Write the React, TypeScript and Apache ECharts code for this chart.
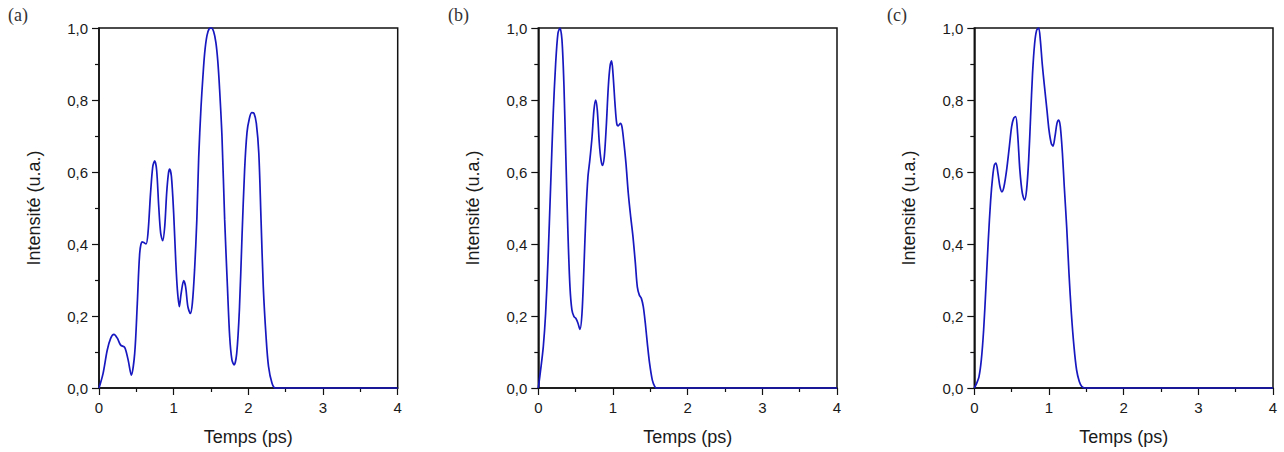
import React, { useEffect, useRef } from "react";
import * as echarts from "echarts";

// Panel (a)
const timeA = [0, 0.054, 0.11, 0.156, 0.2, 0.246, 0.29, 0.344, 0.39, 0.433, 0.478, 0.513, 0.545, 0.576, 0.6, 0.63, 0.656, 0.69, 0.72, 0.746, 0.772, 0.8, 0.826, 0.853, 0.88, 0.906, 0.93, 0.946, 0.97, 1.0, 1.027, 1.05, 1.076, 1.1, 1.134, 1.16, 1.19, 1.223, 1.25, 1.28, 1.31, 1.335, 1.366, 1.39, 1.415, 1.445, 1.475, 1.505, 1.535, 1.565, 1.59, 1.615, 1.647, 1.683, 1.72, 1.75, 1.78, 1.81, 1.844, 1.88, 1.915, 1.95, 1.982, 2.013, 2.045, 2.076, 2.107, 2.14, 2.17, 2.2, 2.237, 2.27, 2.317, 2.36, 3.0, 4.0];
const intensA = [0, 0.04, 0.105, 0.138, 0.149, 0.138, 0.119, 0.113, 0.078, 0.036, 0.096, 0.235, 0.374, 0.406, 0.404, 0.4, 0.43, 0.54, 0.615, 0.631, 0.605, 0.504, 0.43, 0.409, 0.448, 0.541, 0.596, 0.608, 0.587, 0.485, 0.356, 0.272, 0.226, 0.263, 0.298, 0.281, 0.226, 0.207, 0.235, 0.328, 0.467, 0.64, 0.78, 0.86, 0.93, 0.978, 0.998, 1.0, 0.99, 0.96, 0.91, 0.83, 0.698, 0.467, 0.281, 0.143, 0.078, 0.064, 0.096, 0.217, 0.42, 0.606, 0.71, 0.748, 0.765, 0.763, 0.735, 0.652, 0.467, 0.281, 0.143, 0.06, 0.013, 0, 0, 0];

// Panel (b)
const timeB = [0, 0.031, 0.067, 0.098, 0.13, 0.165, 0.2, 0.232, 0.263, 0.29, 0.317, 0.344, 0.37, 0.397, 0.424, 0.45, 0.478, 0.504, 0.531, 0.558, 0.585, 0.61, 0.638, 0.665, 0.69, 0.72, 0.745, 0.768, 0.79, 0.817, 0.84, 0.86, 0.884, 0.91, 0.9375, 0.96, 0.982, 1.0, 1.027, 1.05, 1.07, 1.098, 1.12, 1.147, 1.174, 1.205, 1.237, 1.268, 1.3, 1.326, 1.353, 1.38, 1.406, 1.433, 1.46, 1.49, 1.527, 1.56, 1.585, 3.0, 4.0];
const intensB = [0, 0.05, 0.115, 0.207, 0.356, 0.56, 0.763, 0.9, 0.985, 1.0, 0.967, 0.837, 0.633, 0.43, 0.281, 0.217, 0.198, 0.193, 0.18, 0.163, 0.207, 0.328, 0.485, 0.587, 0.633, 0.698, 0.772, 0.8, 0.772, 0.68, 0.633, 0.618, 0.643, 0.726, 0.837, 0.893, 0.909, 0.874, 0.79, 0.735, 0.728, 0.735, 0.726, 0.68, 0.624, 0.541, 0.476, 0.42, 0.346, 0.281, 0.258, 0.249, 0.226, 0.18, 0.124, 0.069, 0.022, 0.004, 0, 0, 0];

// Panel (c)
const timeC = [0, 0.031, 0.0625, 0.094, 0.125, 0.156, 0.1875, 0.219, 0.246, 0.268, 0.29, 0.317, 0.344, 0.37, 0.397, 0.433, 0.469, 0.5, 0.527, 0.554, 0.58, 0.61, 0.643, 0.674, 0.7, 0.728, 0.754, 0.78, 0.808, 0.835, 0.862, 0.884, 0.91, 0.94, 0.973, 1.0, 1.03, 1.054, 1.08, 1.107, 1.13, 1.152, 1.18, 1.205, 1.237, 1.268, 1.3, 1.335, 1.37, 1.406, 1.44, 1.48, 3.0, 4.0];
const intensC = [0, 0.013, 0.031, 0.078, 0.161, 0.281, 0.411, 0.522, 0.587, 0.619, 0.625, 0.596, 0.559, 0.545, 0.559, 0.606, 0.67, 0.726, 0.749, 0.754, 0.707, 0.606, 0.541, 0.522, 0.55, 0.633, 0.754, 0.874, 0.957, 0.994, 1.0, 0.967, 0.9, 0.837, 0.772, 0.717, 0.68, 0.672, 0.698, 0.735, 0.744, 0.726, 0.652, 0.559, 0.448, 0.318, 0.207, 0.115, 0.05, 0.018, 0.004, 0, 0, 0];

const panelLabels = ["(a)", "(b)", "(c)"];
const xTitle = "Temps (ps)";
const yTitle = "Intensité (u.a.)";

const zip = (t: number[], v: number[]) => t.map((x, i) => [x, v[i]]);

export default function App() {
  const ref = useRef<HTMLDivElement>(null);
  useEffect(() => {
    if (!ref.current) return;
    const chart = echarts.init(ref.current, undefined, { renderer: "svg" });
    const lefts = [99, 538.3, 974.3];
    const seriesData = [zip(timeA, intensA), zip(timeB, intensB), zip(timeC, intensC)];
    const labelX = [8, 448, 887];
    const axisColor = "#111";
    const textColor = "#1a1a1a";
    const font = "'Liberation Sans', Arial, sans-serif";
    const option: any = {
      animation: false,
      backgroundColor: "#fff",
      grid: lefts.map((l) => ({
        left: l,
        top: 28,
        width: 298.7,
        height: 360,
        show: true,
        borderColor: axisColor,
        borderWidth: 1.5,
        backgroundColor: "transparent",
      })),
      xAxis: lefts.map((_, i) => ({
        type: "value",
        gridIndex: i,
        min: 0,
        max: 4,
        interval: 1,
        name: xTitle,
        nameLocation: "middle",
        nameGap: 40,
        nameTextStyle: { fontFamily: font, fontSize: 18, color: textColor },
        axisLine: { lineStyle: { color: axisColor, width: 1.5 } },
        axisTick: { show: true, inside: false, length: 7, lineStyle: { color: axisColor, width: 1.2 } },
        minorTick: { show: true, splitNumber: 2, length: 4, lineStyle: { color: axisColor, width: 1.2 } },
        splitLine: { show: false },
        axisLabel: { fontFamily: font, fontSize: 15, color: textColor, margin: 12 },
      })),
      yAxis: lefts.map((_, i) => ({
        type: "value",
        gridIndex: i,
        min: 0,
        max: 1,
        interval: 0.2,
        name: yTitle,
        nameLocation: "middle",
        nameGap: 56,
        nameTextStyle: { fontFamily: font, fontSize: 18, color: textColor },
        axisLine: { show: true, lineStyle: { color: axisColor, width: 1.5 } },
        axisTick: { show: true, inside: false, length: 7, lineStyle: { color: axisColor, width: 1.2 } },
        minorTick: { show: true, splitNumber: 2, length: 4, lineStyle: { color: axisColor, width: 1.2 } },
        splitLine: { show: false },
        axisLabel: {
          fontFamily: font,
          fontSize: 15,
          color: textColor,
          margin: 11,
          formatter: (v: number) => v.toFixed(1).replace(".", ","),
        },
      })),
      series: seriesData.map((d, i) => ({
        type: "line",
        xAxisIndex: i,
        yAxisIndex: i,
        data: d,
        showSymbol: false,
        smooth: 0.3,
        clip: false,
        lineStyle: { color: "#1818c0", width: 1.7 },
      })),
      graphic: panelLabels.map((t, i) => ({
        type: "text",
        left: labelX[i],
        top: 6,
        style: { text: t, fontFamily: "'Liberation Serif', 'DejaVu Serif', serif", fontSize: 18, fill: "#333" },
      })),
    };
    chart.setOption(option);
    return () => chart.dispose();
  }, []);
  return <div ref={ref} style={{ position: "absolute", left: 0, top: 0, width: 1284, height: 452 }} />;
}
